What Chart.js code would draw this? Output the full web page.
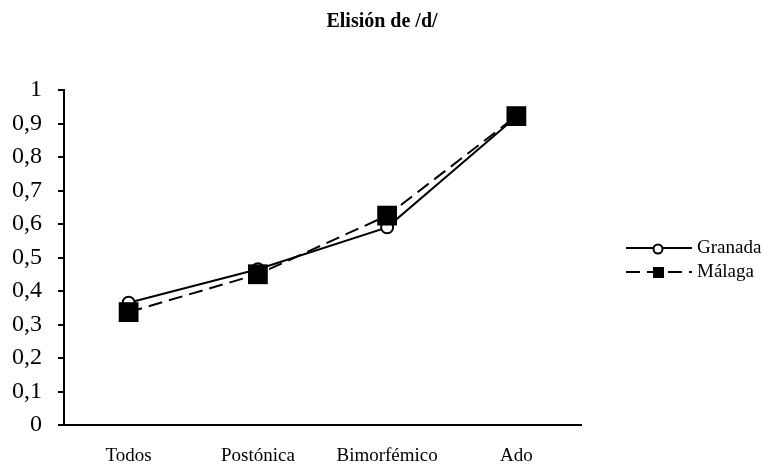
<!DOCTYPE html>
<html>
<head>
<meta charset="utf-8">
<script src="https://cdn.jsdelivr.net/npm/chart.js@4.4.0/dist/chart.umd.min.js"></script>
<style>
  body { margin: 0; background: #fff; }
</style>
</head>
<body>
<canvas id="chart" width="764" height="466"></canvas>
<script>
// data
const categories = ['Todos', 'Postónica', 'Bimorfémico', 'Ado'];
const granada = [0.365, 0.465, 0.59, 0.92];
const malaga = [0.337, 0.45, 0.625, 0.922];
const yTickLabels = ['0', '0,1', '0,2', '0,3', '0,4', '0,5', '0,6', '0,7', '0,8', '0,9', '1'];
const titleText = 'Elisión de /d/';

const serif = "'Liberation Serif', 'Times New Roman', serif";

// title centred on the whole canvas + legend at the right, like the original
const decorations = {
  id: 'decorations',
  afterDraw(chart) {
    const ctx = chart.ctx;
    ctx.save();
    ctx.fillStyle = '#000';
    ctx.font = 'bold 20px ' + serif;
    ctx.textAlign = 'center';
    ctx.textBaseline = 'middle';
    ctx.fillText(titleText, chart.width / 2, 22);

    const rows = [
      { ds: chart.data.datasets[0], y: 248 },
      { ds: chart.data.datasets[1], y: 272 }
    ];
    rows.forEach(row => {
      const ds = row.ds;
      ctx.strokeStyle = '#000';
      ctx.lineWidth = 2;
      ctx.setLineDash(ds.borderDash || []);
      ctx.beginPath();
      ctx.moveTo(626, row.y);
      ctx.lineTo(692, row.y);
      ctx.stroke();
      ctx.setLineDash([]);
      ctx.fillStyle = ds.pointBackgroundColor;
      if (ds.pointStyle === 'rect') {
        ctx.fillRect(653, row.y - 5, 11, 11);
      } else {
        ctx.beginPath();
        ctx.arc(658, row.y + 1, 4.5, 0, Math.PI * 2);
        ctx.fill();
        ctx.stroke();
      }
      ctx.fillStyle = '#000';
      ctx.font = '19px ' + serif;
      ctx.textAlign = 'left';
      ctx.fillText(ds.label, 697, row.y);
    });
    ctx.restore();
  }
};

new Chart(document.getElementById('chart'), {
  type: 'line',
  data: {
    labels: categories,
    datasets: [
      {
        label: 'Granada',
        data: granada,
        order: 1,
        borderColor: '#000',
        borderWidth: 2,
        pointStyle: 'circle',
        pointRadius: 6,
        pointBorderWidth: 2,
        pointBorderColor: '#000',
        pointBackgroundColor: '#fff',
        tension: 0
      },
      {
        label: 'Málaga',
        data: malaga,
        order: 0,
        borderColor: '#000',
        borderWidth: 2,
        borderDash: [14, 7],
        pointStyle: 'rect',
        pointRadius: 14,
        pointBorderWidth: 0,
        pointBorderColor: '#000',
        pointBackgroundColor: '#000',
        tension: 0
      }
    ]
  },
  options: {
    responsive: false,
    animation: false,
    layout: { padding: { left: 0, right: 183, top: 90, bottom: 0 } },
    plugins: {
      legend: { display: false },
      tooltip: { enabled: false },
      title: { display: false }
    },
    scales: {
      x: {
        offset: true,
        afterFit(scale) { scale.height = 41; },
        grid: { display: false, drawTicks: false },
        border: { display: true, color: '#000', width: 2 },
        ticks: { color: '#000', padding: 20, font: { family: serif, size: 19 } }
      },
      y: {
        min: 0,
        max: 1,
        afterFit(scale) { scale.width = 64; },
        grid: { drawOnChartArea: false, drawTicks: true, tickLength: 6, color: '#000', lineWidth: 2 },
        border: { display: true, color: '#000', width: 2 },
        ticks: {
          stepSize: 0.1,
          color: '#000',
          padding: 16,
          font: { family: serif, size: 24 },
          callback: (v, i) => yTickLabels[i]
        }
      }
    }
  },
  plugins: [decorations]
});
</script>
</body>
</html>
